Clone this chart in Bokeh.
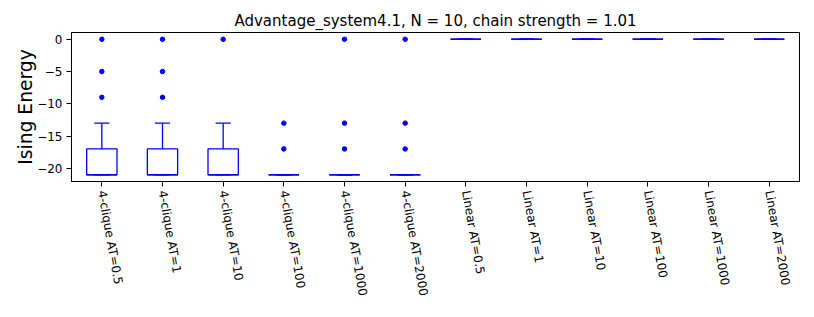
import math
from bokeh.plotting import figure
from bokeh.models import FactorRange, Range1d, FixedTicker
from bokeh.embed import file_html
from bokeh.resources import INLINE

categories = ["4-clique AT=0.5", "4-clique AT=1", "4-clique AT=10", "4-clique AT=100",
              "4-clique AT=1000", "4-clique AT=2000", "Linear AT=0.5", "Linear AT=1",
              "Linear AT=10", "Linear AT=100", "Linear AT=1000", "Linear AT=2000"]
q1 = [-21, -21, -21, -21, -21, -21, 0, 0, 0, 0, 0, 0]
q3 = [-17, -17, -17, -21, -21, -21, 0, 0, 0, 0, 0, 0]
median = [-21, -21, -21, -21, -21, -21, 0, 0, 0, 0, 0, 0]
whisker_low = [-21, -21, -21, -21, -21, -21, 0, 0, 0, 0, 0, 0]
whisker_high = [-13, -13, -13, -21, -21, -21, 0, 0, 0, 0, 0, 0]
outliers = [[0, -5, -9], [0, -5, -9], [0], [-13, -17], [0, -13, -17], [0, -13, -17],
            [], [], [], [], [], []]
yticks = [0, -5, -10, -15, -20]

BLUE = "#0000ff"
FONT = "DejaVu Sans"
LW = 1.3

p = figure(x_range=FactorRange(factors=categories, range_padding=0),
           y_range=Range1d(-22.05, 1.05),
           frame_width=728, frame_height=149, output_backend="svg", toolbar_location=None,
           min_border_left=71, min_border_right=13, min_border_top=32, min_border_bottom=132,
           title="Advantage_system4.1, N = 10, chain strength = 1.01")

p.title.text_font = FONT
p.title.text_font_size = "15px"
p.title.text_font_style = "normal"
p.title.text_color = "black"
p.title.align = "center"
p.title.standoff = 6

p.xgrid.visible = False
p.ygrid.visible = False
p.outline_line_color = "black"
p.outline_line_width = 1

# boxes
p.quad(left=[(c, -0.25) for c in categories], right=[(c, 0.25) for c in categories],
       bottom=q1, top=q3, fill_color=None, line_color=BLUE, line_width=LW)
# median
p.segment(x0=[(c, -0.25) for c in categories], x1=[(c, 0.25) for c in categories],
          y0=median, y1=median, line_color=BLUE, line_width=LW)
# whiskers
p.segment(x0=categories, x1=categories, y0=q3, y1=whisker_high, line_color=BLUE, line_width=LW)
p.segment(x0=categories, x1=categories, y0=q1, y1=whisker_low, line_color=BLUE, line_width=LW)
# caps
p.segment(x0=[(c, -0.125) for c in categories], x1=[(c, 0.125) for c in categories],
          y0=whisker_high, y1=whisker_high, line_color=BLUE, line_width=LW)
p.segment(x0=[(c, -0.125) for c in categories], x1=[(c, 0.125) for c in categories],
          y0=whisker_low, y1=whisker_low, line_color=BLUE, line_width=LW)
# outliers
ox, oy = [], []
for c, vals in zip(categories, outliers):
    for v in vals:
        ox.append(c)
        oy.append(v)
p.scatter(x=ox, y=oy, size=4.5, marker="circle", fill_color=BLUE, line_color=BLUE)

# axes
p.yaxis.ticker = FixedTicker(ticks=yticks)
p.yaxis.major_label_overrides = {t: (str(t).replace("-", "\u2212")) for t in yticks}
p.yaxis.axis_label = "Ising Energy"
p.yaxis.axis_label_text_font = FONT
p.yaxis.axis_label_text_font_size = "18.7px"
p.yaxis.axis_label_text_font_style = "normal"
p.yaxis.axis_label_text_color = "black"
p.yaxis.axis_label_standoff = -2
for ax in (p.xaxis, p.yaxis):
    ax.major_label_text_font = FONT
    ax.major_label_text_font_size = "12px"
    ax.major_label_text_color = "black"
    ax.axis_line_color = "black"
    ax.major_tick_line_color = "black"
    ax.minor_tick_line_color = None
    ax.major_tick_out = 5
    ax.major_tick_in = 0
    ax.major_label_standoff = 4
p.xaxis.major_label_orientation = -80 * math.pi / 180

open("out.html", "w").write(file_html(p, INLINE))
